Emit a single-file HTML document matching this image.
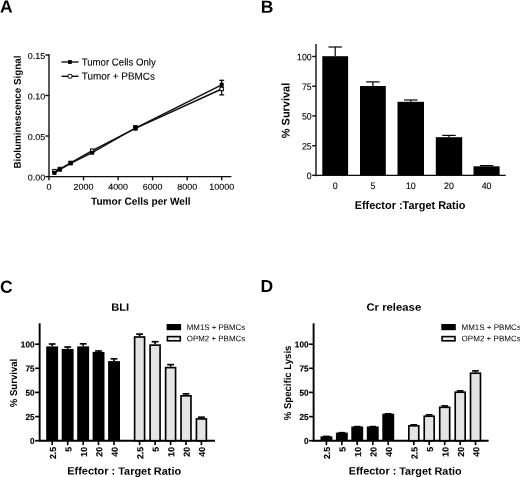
<!DOCTYPE html>
<html><head><meta charset="utf-8"><title>Figure</title>
<style>
html,body{margin:0;padding:0;background:#fff;}
body{width:520px;height:477px;overflow:hidden;}
svg{display:block;}
text{font-family:"Liberation Sans",sans-serif;fill:#000;}
.b{font-weight:bold;}
.ax{stroke:#111;stroke-width:1.4;fill:none;stroke-linecap:butt;}
.ax2{stroke:#000;stroke-width:1.9;fill:none;stroke-linecap:butt;}
.eb{stroke:#000;stroke-width:1.2;fill:none;}
.eb2{stroke:#000;stroke-width:1.65;fill:none;}
.ta{font-size:8.6px;fill:#000;stroke:#000;stroke-width:0.12;}
.tbb{font-size:9.4px;fill:#000;stroke:#000;stroke-width:0.12;}
.tb{font-size:8.75px;font-weight:bold;stroke:#000;stroke-width:0.18;}
.pl{font-size:17.5px;font-weight:bold;}
</style></head><body>
<svg width="520" height="477" viewBox="0 0 520 477">
<defs><filter id="soft" x="0" y="0" width="520" height="477" filterUnits="userSpaceOnUse"><feGaussianBlur stdDeviation="0.38"/></filter></defs>
<rect width="520" height="477" fill="#fff"/>
<g filter="url(#soft)">

<text transform="translate(0.1 12.5) rotate(0.03)" class="pl">A</text>
<text transform="translate(260.7 12.7) rotate(0.03)" class="pl">B</text>
<text transform="translate(0 292.7) rotate(0.03)" class="pl">C</text>
<text transform="translate(260.5 292) rotate(0.03)" class="pl">D</text>
<line x1="49" y1="54.2" x2="49" y2="177.29999999999998" class="ax"/>
<line x1="49" y1="176.6" x2="231.4" y2="176.6" class="ax"/>
<line x1="45.3" y1="55.0" x2="49" y2="55.0" class="ax"/>
<text transform="translate(45.1 59.0) rotate(0.03) scale(1.04 1)" class="ta" text-anchor="end">0.15</text>
<line x1="45.3" y1="95.5" x2="49" y2="95.5" class="ax"/>
<text transform="translate(45.1 99.5) rotate(0.03) scale(1.04 1)" class="ta" text-anchor="end">0.10</text>
<line x1="45.3" y1="136.0" x2="49" y2="136.0" class="ax"/>
<text transform="translate(45.1 139.9) rotate(0.03) scale(1.04 1)" class="ta" text-anchor="end">0.05</text>
<line x1="45.3" y1="176.6" x2="49" y2="176.6" class="ax"/>
<text transform="translate(45.1 180.5) rotate(0.03) scale(1.04 1)" class="ta" text-anchor="end">0.00</text>
<line x1="49.0" y1="176.6" x2="49.0" y2="180.29999999999998" class="ax"/>
<text transform="translate(49.0 189.8) rotate(0.03) scale(1.04 1)" class="ta" text-anchor="middle">0</text>
<line x1="83.5" y1="176.6" x2="83.5" y2="180.29999999999998" class="ax"/>
<text transform="translate(83.5 189.8) rotate(0.03) scale(1.04 1)" class="ta" text-anchor="middle">2000</text>
<line x1="118.1" y1="176.6" x2="118.1" y2="180.29999999999998" class="ax"/>
<text transform="translate(118.1 189.8) rotate(0.03) scale(1.04 1)" class="ta" text-anchor="middle">4000</text>
<line x1="152.6" y1="176.6" x2="152.6" y2="180.29999999999998" class="ax"/>
<text transform="translate(152.6 189.8) rotate(0.03) scale(1.04 1)" class="ta" text-anchor="middle">6000</text>
<line x1="187.2" y1="176.6" x2="187.2" y2="180.29999999999998" class="ax"/>
<text transform="translate(187.2 189.8) rotate(0.03) scale(1.04 1)" class="ta" text-anchor="middle">8000</text>
<line x1="221.7" y1="176.6" x2="221.7" y2="180.29999999999998" class="ax"/>
<text transform="translate(221.7 189.8) rotate(0.03) scale(1.04 1)" class="ta" text-anchor="middle">10000</text>
<text transform="translate(91 204.8) rotate(0.03)" class="b" textLength="99.6" lengthAdjust="spacingAndGlyphs" font-size="10.3px">Tumor Cells per Well</text>
<text transform="translate(20.8 112) rotate(-89.97)" class="b" text-anchor="middle" textLength="113" lengthAdjust="spacingAndGlyphs" font-size="9.8px">Bioluminescence Signal</text>
<polyline class="ax" stroke-width="1.5" points="54.4,172.9 59.8,169.6 70.6,163.3 92.2,152.7 135.4,128.0 221.7,84.8"/>
<polyline class="ax" stroke-width="1.5" points="54.4,171.1 59.8,169.0 70.6,162.9 92.2,150.7 135.4,128.4 221.7,89.0"/>
<line x1="221.7" y1="80.3" x2="221.7" y2="94.9" class="eb"/>
<line x1="219.2" y1="80.3" x2="224.2" y2="80.3" class="eb"/>
<line x1="219.2" y1="94.9" x2="224.2" y2="94.9" class="eb"/>
<line x1="135.4" y1="125.7" x2="135.4" y2="130.5" class="eb"/>
<line x1="133.1" y1="125.7" x2="137.70000000000002" y2="125.7" class="eb"/>
<rect x="52.7" y="169.4" width="3.4" height="3.4" fill="#fff" stroke="#000" stroke-width="1"/>
<rect x="58.1" y="167.3" width="3.4" height="3.4" fill="#fff" stroke="#000" stroke-width="1"/>
<rect x="68.9" y="161.2" width="3.4" height="3.4" fill="#fff" stroke="#000" stroke-width="1"/>
<rect x="90.5" y="149.0" width="3.4" height="3.4" fill="#fff" stroke="#000" stroke-width="1"/>
<rect x="133.7" y="126.7" width="3.4" height="3.4" fill="#fff" stroke="#000" stroke-width="1"/>
<rect x="220.0" y="87.3" width="3.4" height="3.4" fill="#fff" stroke="#000" stroke-width="1"/>
<rect x="52.4" y="170.9" width="4" height="4" fill="#000"/>
<rect x="57.8" y="167.6" width="4" height="4" fill="#000"/>
<rect x="68.6" y="161.3" width="4" height="4" fill="#000"/>
<rect x="90.2" y="150.7" width="4" height="4" fill="#000"/>
<rect x="133.4" y="126.0" width="4" height="4" fill="#000"/>
<rect x="219.7" y="82.8" width="4" height="4" fill="#000"/>
<line x1="61.5" y1="62" x2="78.5" y2="62" class="ax"/>
<rect x="68" y="60.1" width="3.8" height="3.8" fill="#000"/>
<line x1="61.5" y1="76.3" x2="78.5" y2="76.3" class="ax"/>
<rect x="68.1" y="74.4" width="3.8" height="3.8" rx="1" fill="#fff" stroke="#000" stroke-width="1"/>
<text transform="translate(81.7 65.4) rotate(0.03)" textLength="74" lengthAdjust="spacingAndGlyphs" font-size="10.1px" fill="#000" stroke="#000" stroke-width="0.1">Tumor Cells Only</text>
<text transform="translate(81.7 79.6) rotate(0.03)" textLength="73.2" lengthAdjust="spacingAndGlyphs" font-size="10.1px" fill="#000" stroke="#000" stroke-width="0.1">Tumor + PBMCs</text>
<line x1="316" y1="44" x2="316" y2="176.15" class="ax" stroke-width="1.6"/>
<line x1="316" y1="175.35" x2="505.7" y2="175.35" class="ax" stroke-width="1.4"/>
<line x1="312.2" y1="56.5" x2="316" y2="56.5" class="ax"/>
<text transform="translate(311.6 60.2) rotate(0.03) scale(0.93 1)" class="tbb" text-anchor="end">100</text>
<line x1="312.2" y1="86.2" x2="316" y2="86.2" class="ax"/>
<text transform="translate(311.6 89.9) rotate(0.03) scale(0.93 1)" class="tbb" text-anchor="end">75</text>
<line x1="312.2" y1="115.9" x2="316" y2="115.9" class="ax"/>
<text transform="translate(311.6 119.6) rotate(0.03) scale(0.93 1)" class="tbb" text-anchor="end">50</text>
<line x1="312.2" y1="145.7" x2="316" y2="145.7" class="ax"/>
<text transform="translate(311.6 149.4) rotate(0.03) scale(0.93 1)" class="tbb" text-anchor="end">25</text>
<line x1="312.2" y1="175.3" x2="316" y2="175.3" class="ax"/>
<text transform="translate(311.6 179.0) rotate(0.03) scale(0.93 1)" class="tbb" text-anchor="end">0</text>
<rect x="322.3" y="56.2" width="25.8" height="119.1" fill="#000"/>
<line x1="335.2" y1="47" x2="335.2" y2="56.2" class="eb"/>
<line x1="328.5" y1="47" x2="341.9" y2="47" class="eb"/>
<text transform="translate(335.2 188.9) rotate(0.03) scale(0.94 1)" class="tbb" text-anchor="middle">0</text>
<rect x="360" y="86" width="25.8" height="89.3" fill="#000"/>
<line x1="372.9" y1="81.9" x2="372.9" y2="86" class="eb"/>
<line x1="366.2" y1="81.9" x2="379.59999999999997" y2="81.9" class="eb"/>
<text transform="translate(372.9 188.9) rotate(0.03) scale(0.94 1)" class="tbb" text-anchor="middle">5</text>
<rect x="397.5" y="101.8" width="26.5" height="73.5" fill="#000"/>
<line x1="410.8" y1="100" x2="410.8" y2="101.8" class="eb"/>
<line x1="404.1" y1="100" x2="417.5" y2="100" class="eb"/>
<text transform="translate(410.8 188.9) rotate(0.03) scale(0.94 1)" class="tbb" text-anchor="middle">10</text>
<rect x="435.8" y="137.2" width="26.4" height="38.2" fill="#000"/>
<line x1="449.0" y1="135.4" x2="449.0" y2="137.2" class="eb"/>
<line x1="442.3" y1="135.4" x2="455.7" y2="135.4" class="eb"/>
<text transform="translate(449.0 188.9) rotate(0.03) scale(0.94 1)" class="tbb" text-anchor="middle">20</text>
<rect x="473.5" y="166.3" width="26.1" height="9.0" fill="#000"/>
<line x1="486.6" y1="165.6" x2="486.6" y2="166.3" class="eb"/>
<line x1="479.90000000000003" y1="165.6" x2="493.3" y2="165.6" class="eb"/>
<text transform="translate(486.6 188.9) rotate(0.03) scale(0.94 1)" class="tbb" text-anchor="middle">40</text>
<text transform="translate(354.7 209) rotate(0.03)" class="b" textLength="110.7" lengthAdjust="spacingAndGlyphs" font-size="11.3px">Effector :Target Ratio</text>
<text transform="translate(289.6 110.5) rotate(-89.97)" class="b" text-anchor="middle" textLength="55.4" lengthAdjust="spacingAndGlyphs" font-size="11.2px">% Survival</text>
<line x1="39.65" y1="323.3" x2="39.65" y2="441.65" class="ax2"/>
<line x1="39.65" y1="440.7" x2="215" y2="440.7" class="ax2"/>
<line x1="35.15" y1="344.2" x2="39.65" y2="344.2" class="eb2"/>
<text transform="translate(34.5 347.5) rotate(0.03) scale(0.937 1)" class="tb" text-anchor="end">100</text>
<line x1="35.15" y1="368.3" x2="39.65" y2="368.3" class="eb2"/>
<text transform="translate(34.5 371.6) rotate(0.03) scale(0.937 1)" class="tb" text-anchor="end">75</text>
<line x1="35.15" y1="392.4" x2="39.65" y2="392.4" class="eb2"/>
<text transform="translate(34.5 395.7) rotate(0.03) scale(0.937 1)" class="tb" text-anchor="end">50</text>
<line x1="35.15" y1="416.6" x2="39.65" y2="416.6" class="eb2"/>
<text transform="translate(34.5 419.9) rotate(0.03) scale(0.937 1)" class="tb" text-anchor="end">25</text>
<line x1="35.15" y1="440.7" x2="39.65" y2="440.7" class="eb2"/>
<text transform="translate(34.5 444.0) rotate(0.03) scale(0.937 1)" class="tb" text-anchor="end">0</text>
<text transform="translate(111.2 310.8) rotate(0.03)" class="b" textLength="18" lengthAdjust="spacingAndGlyphs" font-size="10.6px">BLI</text>
<text transform="translate(17.1 383) rotate(-89.97)" class="b" text-anchor="middle" textLength="48.3" lengthAdjust="spacingAndGlyphs" font-size="10px">% Survival</text>
<rect x="46.2" y="346.4" width="11.9" height="94.3" fill="#000"/>
<line x1="52.2" y1="344" x2="52.2" y2="346.4" class="eb2"/>
<line x1="48.800000000000004" y1="344" x2="55.6" y2="344" class="eb2"/>
<line x1="52.2" y1="440.7" x2="52.2" y2="445.09999999999997" class="eb2"/>
<text transform="translate(55.9 446.9) rotate(-89.97) scale(1.0 1)" class="tb" text-anchor="end">2.5</text>
<rect x="61.7" y="348.9" width="11.9" height="91.8" fill="#000"/>
<line x1="67.7" y1="347" x2="67.7" y2="348.9" class="eb2"/>
<line x1="64.3" y1="347" x2="71.10000000000001" y2="347" class="eb2"/>
<line x1="67.7" y1="440.7" x2="67.7" y2="445.09999999999997" class="eb2"/>
<text transform="translate(71.4 446.9) rotate(-89.97) scale(1.0 1)" class="tb" text-anchor="end">5</text>
<rect x="77.2" y="346.4" width="11.9" height="94.3" fill="#000"/>
<line x1="83.2" y1="343.8" x2="83.2" y2="346.4" class="eb2"/>
<line x1="79.8" y1="343.8" x2="86.60000000000001" y2="343.8" class="eb2"/>
<line x1="83.2" y1="440.7" x2="83.2" y2="445.09999999999997" class="eb2"/>
<text transform="translate(86.9 446.9) rotate(-89.97) scale(1.0 1)" class="tb" text-anchor="end">10</text>
<rect x="92.6" y="351.9" width="11.9" height="88.8" fill="#000"/>
<line x1="98.5" y1="351" x2="98.5" y2="351.9" class="eb2"/>
<line x1="95.1" y1="351" x2="101.9" y2="351" class="eb2"/>
<line x1="98.5" y1="440.7" x2="98.5" y2="445.09999999999997" class="eb2"/>
<text transform="translate(102.2 446.9) rotate(-89.97) scale(1.0 1)" class="tb" text-anchor="end">20</text>
<rect x="108.1" y="361.1" width="11.9" height="79.6" fill="#000"/>
<line x1="114.0" y1="358.8" x2="114.0" y2="361.1" class="eb2"/>
<line x1="110.6" y1="358.8" x2="117.4" y2="358.8" class="eb2"/>
<line x1="114.0" y1="440.7" x2="114.0" y2="445.09999999999997" class="eb2"/>
<text transform="translate(117.7 446.9) rotate(-89.97) scale(1.0 1)" class="tb" text-anchor="end">40</text>
<line x1="139.6" y1="334.1" x2="139.6" y2="336.2" class="eb2"/>
<line x1="136.2" y1="334.1" x2="143.0" y2="334.1" class="eb2"/>
<line x1="139.6" y1="440.7" x2="139.6" y2="445.09999999999997" class="eb2"/>
<rect x="134.62" y="337.02" width="9.95" height="103.7" fill="#e4e4e4" stroke="#000" stroke-width="1.65"/>
<text transform="translate(143.3 446.9) rotate(-89.97) scale(1.0 1)" class="tb" text-anchor="end">2.5</text>
<line x1="155.1" y1="341.7" x2="155.1" y2="344.3" class="eb2"/>
<line x1="151.7" y1="341.7" x2="158.5" y2="341.7" class="eb2"/>
<line x1="155.1" y1="440.7" x2="155.1" y2="445.09999999999997" class="eb2"/>
<rect x="150.12" y="345.12" width="9.95" height="95.6" fill="#e4e4e4" stroke="#000" stroke-width="1.65"/>
<text transform="translate(158.8 446.9) rotate(-89.97) scale(1.0 1)" class="tb" text-anchor="end">5</text>
<line x1="170.6" y1="364.6" x2="170.6" y2="366.8" class="eb2"/>
<line x1="167.2" y1="364.6" x2="174.0" y2="364.6" class="eb2"/>
<line x1="170.6" y1="440.7" x2="170.6" y2="445.09999999999997" class="eb2"/>
<rect x="165.62" y="367.62" width="9.95" height="73.1" fill="#e4e4e4" stroke="#000" stroke-width="1.65"/>
<text transform="translate(174.3 446.9) rotate(-89.97) scale(1.0 1)" class="tb" text-anchor="end">10</text>
<line x1="186.0" y1="393.8" x2="186.0" y2="395.0" class="eb2"/>
<line x1="182.6" y1="393.8" x2="189.4" y2="393.8" class="eb2"/>
<line x1="186.0" y1="440.7" x2="186.0" y2="445.09999999999997" class="eb2"/>
<rect x="181.02" y="395.82" width="9.95" height="44.9" fill="#e4e4e4" stroke="#000" stroke-width="1.65"/>
<text transform="translate(189.7 446.9) rotate(-89.97) scale(1.0 1)" class="tb" text-anchor="end">20</text>
<line x1="201.4" y1="417.2" x2="201.4" y2="418.1" class="eb2"/>
<line x1="198.0" y1="417.2" x2="204.8" y2="417.2" class="eb2"/>
<line x1="201.4" y1="440.7" x2="201.4" y2="445.09999999999997" class="eb2"/>
<rect x="196.42" y="418.93" width="9.95" height="21.8" fill="#e4e4e4" stroke="#000" stroke-width="1.65"/>
<text transform="translate(205.1 446.9) rotate(-89.97) scale(1.0 1)" class="tb" text-anchor="end">40</text>
<rect x="166.6" y="324" width="14.5" height="6.2" fill="#000"/>
<rect x="167.4" y="336.6" width="12.9" height="4.2" fill="#ececec" stroke="#000" stroke-width="1.6"/>
<text transform="translate(186.8 329.9) rotate(0.03)" textLength="58.4" lengthAdjust="spacingAndGlyphs" font-size="8px" fill="#000">MM1S + PBMCs</text>
<text transform="translate(186.8 341.3) rotate(0.03)" textLength="58.4" lengthAdjust="spacingAndGlyphs" font-size="8px" fill="#000">OPM2 + PBMCs</text>
<text transform="translate(67.3 474.6) rotate(0.03)" class="b" textLength="113.8" lengthAdjust="spacingAndGlyphs" font-size="10.7px">Effector : Target Ratio</text>
<line x1="313.6" y1="323.3" x2="313.6" y2="441.65" class="ax2"/>
<line x1="313.6" y1="440.7" x2="488.6" y2="440.7" class="ax2"/>
<line x1="309.1" y1="344.2" x2="313.6" y2="344.2" class="eb2"/>
<text transform="translate(308.5 347.5) rotate(0.03) scale(0.937 1)" class="tb" text-anchor="end">100</text>
<line x1="309.1" y1="368.3" x2="313.6" y2="368.3" class="eb2"/>
<text transform="translate(308.5 371.6) rotate(0.03) scale(0.937 1)" class="tb" text-anchor="end">75</text>
<line x1="309.1" y1="392.4" x2="313.6" y2="392.4" class="eb2"/>
<text transform="translate(308.5 395.7) rotate(0.03) scale(0.937 1)" class="tb" text-anchor="end">50</text>
<line x1="309.1" y1="416.6" x2="313.6" y2="416.6" class="eb2"/>
<text transform="translate(308.5 419.9) rotate(0.03) scale(0.937 1)" class="tb" text-anchor="end">25</text>
<line x1="309.1" y1="440.7" x2="313.6" y2="440.7" class="eb2"/>
<text transform="translate(308.5 444.0) rotate(0.03) scale(0.937 1)" class="tb" text-anchor="end">0</text>
<text transform="translate(366.4 310.8) rotate(0.03)" class="b" textLength="54.8" lengthAdjust="spacingAndGlyphs" font-size="10.6px">Cr release</text>
<text transform="translate(290.9 382.9) rotate(-89.97)" class="b" text-anchor="middle" textLength="74.6" lengthAdjust="spacingAndGlyphs" font-size="10px">% Specific Lysis</text>
<rect x="320.5" y="436.3" width="11.9" height="4.4" fill="#000"/>
<line x1="326.4" y1="436.4" x2="326.4" y2="436.3" class="eb2"/>
<line x1="323.0" y1="436.4" x2="329.79999999999995" y2="436.4" class="eb2"/>
<line x1="326.4" y1="440.7" x2="326.4" y2="445.09999999999997" class="eb2"/>
<text transform="translate(330.1 446.9) rotate(-89.97) scale(1.0 1)" class="tb" text-anchor="end">2.5</text>
<rect x="335.9" y="432.6" width="11.9" height="8.1" fill="#000"/>
<line x1="341.8" y1="432.7" x2="341.8" y2="432.6" class="eb2"/>
<line x1="338.40000000000003" y1="432.7" x2="345.2" y2="432.7" class="eb2"/>
<line x1="341.8" y1="440.7" x2="341.8" y2="445.09999999999997" class="eb2"/>
<text transform="translate(345.5 446.9) rotate(-89.97) scale(1.0 1)" class="tb" text-anchor="end">5</text>
<rect x="351.3" y="426.5" width="11.9" height="14.2" fill="#000"/>
<line x1="357.2" y1="426.6" x2="357.2" y2="426.5" class="eb2"/>
<line x1="353.8" y1="426.6" x2="360.59999999999997" y2="426.6" class="eb2"/>
<line x1="357.2" y1="440.7" x2="357.2" y2="445.09999999999997" class="eb2"/>
<text transform="translate(360.9 446.9) rotate(-89.97) scale(1.0 1)" class="tb" text-anchor="end">10</text>
<rect x="366.8" y="426.5" width="11.9" height="14.2" fill="#000"/>
<line x1="372.8" y1="426.6" x2="372.8" y2="426.5" class="eb2"/>
<line x1="369.40000000000003" y1="426.6" x2="376.2" y2="426.6" class="eb2"/>
<line x1="372.8" y1="440.7" x2="372.8" y2="445.09999999999997" class="eb2"/>
<text transform="translate(376.5 446.9) rotate(-89.97) scale(1.0 1)" class="tb" text-anchor="end">20</text>
<rect x="382.3" y="413.7" width="11.9" height="27.0" fill="#000"/>
<line x1="388.2" y1="413.8" x2="388.2" y2="413.7" class="eb2"/>
<line x1="384.8" y1="413.8" x2="391.59999999999997" y2="413.8" class="eb2"/>
<line x1="388.2" y1="440.7" x2="388.2" y2="445.09999999999997" class="eb2"/>
<text transform="translate(391.9 446.9) rotate(-89.97) scale(1.0 1)" class="tb" text-anchor="end">40</text>
<line x1="413.8" y1="424.8" x2="413.8" y2="425.0" class="eb2"/>
<line x1="410.40000000000003" y1="424.8" x2="417.2" y2="424.8" class="eb2"/>
<line x1="413.8" y1="440.7" x2="413.8" y2="445.09999999999997" class="eb2"/>
<rect x="408.82" y="425.82" width="9.95" height="14.9" fill="#e4e4e4" stroke="#000" stroke-width="1.65"/>
<text transform="translate(417.5 446.9) rotate(-89.97) scale(1.0 1)" class="tb" text-anchor="end">2.5</text>
<line x1="429.2" y1="414.8" x2="429.2" y2="415.4" class="eb2"/>
<line x1="425.8" y1="414.8" x2="432.59999999999997" y2="414.8" class="eb2"/>
<line x1="429.2" y1="440.7" x2="429.2" y2="445.09999999999997" class="eb2"/>
<rect x="424.22" y="416.22" width="9.95" height="24.5" fill="#e4e4e4" stroke="#000" stroke-width="1.65"/>
<text transform="translate(432.9 446.9) rotate(-89.97) scale(1.0 1)" class="tb" text-anchor="end">5</text>
<line x1="444.7" y1="405.9" x2="444.7" y2="406.5" class="eb2"/>
<line x1="441.3" y1="405.9" x2="448.09999999999997" y2="405.9" class="eb2"/>
<line x1="444.7" y1="440.7" x2="444.7" y2="445.09999999999997" class="eb2"/>
<rect x="439.72" y="407.32" width="9.95" height="33.4" fill="#e4e4e4" stroke="#000" stroke-width="1.65"/>
<text transform="translate(448.4 446.9) rotate(-89.97) scale(1.0 1)" class="tb" text-anchor="end">10</text>
<line x1="460.2" y1="390.9" x2="460.2" y2="391.4" class="eb2"/>
<line x1="456.8" y1="390.9" x2="463.59999999999997" y2="390.9" class="eb2"/>
<line x1="460.2" y1="440.7" x2="460.2" y2="445.09999999999997" class="eb2"/>
<rect x="455.22" y="392.22" width="9.95" height="48.5" fill="#e4e4e4" stroke="#000" stroke-width="1.65"/>
<text transform="translate(463.9 446.9) rotate(-89.97) scale(1.0 1)" class="tb" text-anchor="end">20</text>
<line x1="475.5" y1="370.9" x2="475.5" y2="372.4" class="eb2"/>
<line x1="472.1" y1="370.9" x2="478.9" y2="370.9" class="eb2"/>
<line x1="475.5" y1="440.7" x2="475.5" y2="445.09999999999997" class="eb2"/>
<rect x="470.52" y="373.22" width="9.95" height="67.5" fill="#e4e4e4" stroke="#000" stroke-width="1.65"/>
<text transform="translate(479.2 446.9) rotate(-89.97) scale(1.0 1)" class="tb" text-anchor="end">40</text>
<rect x="441.3" y="324" width="14.5" height="6.2" fill="#000"/>
<rect x="442.1" y="336.6" width="12.9" height="4.2" fill="#ececec" stroke="#000" stroke-width="1.6"/>
<text transform="translate(461.5 329.9) rotate(0.03)" textLength="59.4" lengthAdjust="spacingAndGlyphs" font-size="8px" fill="#000">MM1S + PBMCs</text>
<text transform="translate(461.5 341.3) rotate(0.03)" textLength="59.4" lengthAdjust="spacingAndGlyphs" font-size="8px" fill="#000">OPM2 + PBMCs</text>
<text transform="translate(348.8 474.6) rotate(0.03)" class="b" textLength="112.8" lengthAdjust="spacingAndGlyphs" font-size="10.7px">Effector : Target Ratio</text>
</g></svg></body></html>
